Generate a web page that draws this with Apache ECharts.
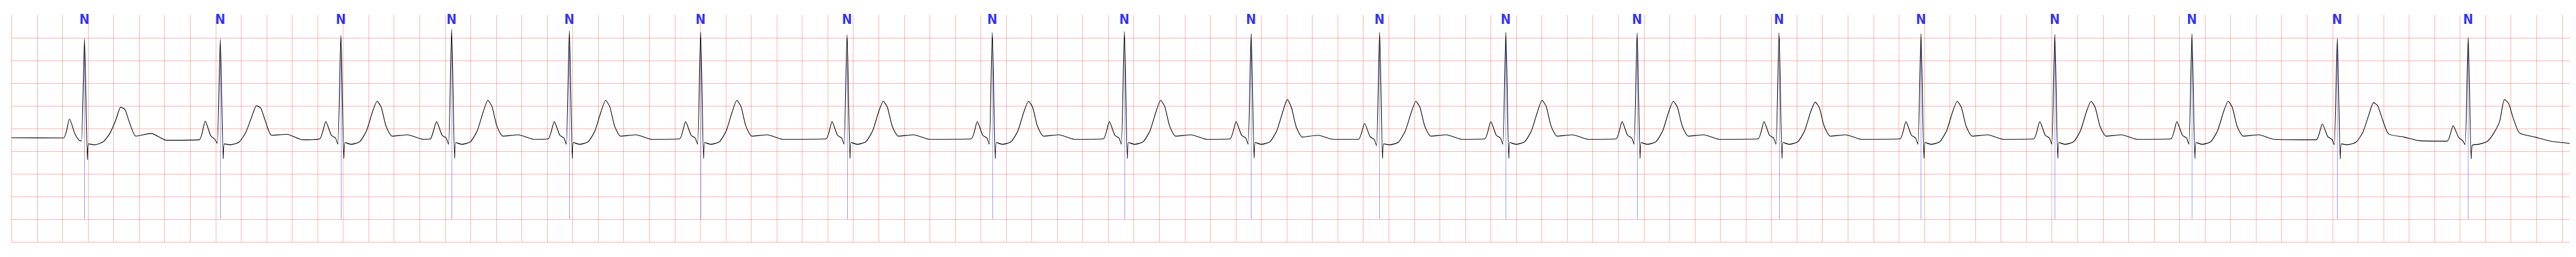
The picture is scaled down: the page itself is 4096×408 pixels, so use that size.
<!DOCTYPE html>
<html><head><meta charset="utf-8">
<script src="https://cdn.jsdelivr.net/npm/echarts@6/dist/echarts.min.js"></script>
<style>html,body{margin:0;padding:0;background:#fff}#c{width:4096px;height:408px}</style>
</head><body><div id="c"></div>
<script>
// Beat annotation times (s) and labels
const beatTimes = [0.5722, 1.6370, 2.5827, 3.4511, 4.3743, 5.4036, 6.5518, 7.6907, 8.7265, 9.7205,
  10.7278, 11.7178, 12.7471, 13.8600, 14.9731, 16.0226, 17.0978, 18.2377, 19.2641];
const beatLabels = ['N','N','N','N','N','N','N','N','N','N','N','N','N','N','N','N','N','N','N'];

// Key-point time offsets relative to each annotation (s)
const keyOffsets = [-0.166, -0.118, -0.075, -0.043, -0.024, 0, 0.0233, 0.032, 0.080, 0.148,
  0.201, 0.247, 0.284, 0.317, 0.354, 0.402, 0.523, 0.644];

// Key-point amplitudes (mV) per beat
const pOnset = [-0.21,-0.25,-0.23,-0.23,-0.23,-0.23,-0.23,-0.23,-0.23,-0.23,-0.24,-0.23,-0.23,-0.23,-0.23,-0.23,-0.23,-0.25,-0.28];
const pPeak  = [0.21,0.16,0.15,0.15,0.15,0.15,0.15,0.15,0.15,0.15,0.11,0.15,0.15,0.15,0.15,0.15,0.15,0.10,0.06];
const pEnd   = [-0.12,-0.16,-0.15,-0.15,-0.15,-0.15,-0.15,-0.15,-0.15,-0.15,-0.18,-0.15,-0.15,-0.15,-0.15,-0.15,-0.15,-0.18,-0.20];
const preQ   = [-0.26,-0.24,-0.21,-0.21,-0.21,-0.21,-0.21,-0.21,-0.21,-0.21,-0.24,-0.21,-0.21,-0.21,-0.21,-0.21,-0.21,-0.24,-0.27];
const qVal   = [-0.28,-0.33,-0.35,-0.35,-0.35,-0.35,-0.35,-0.35,-0.35,-0.35,-0.38,-0.35,-0.35,-0.35,-0.35,-0.35,-0.35,-0.36,-0.36];
const rPeak  = [1.956,1.943,2.054,2.183,2.150,2.124,2.064,2.112,2.137,2.087,2.115,2.115,2.102,2.105,2.090,2.075,2.090,1.971,2.005];
const sVal   = [-0.69,-0.67,-0.66,-0.66,-0.66,-0.66,-0.66,-0.66,-0.66,-0.65,-0.66,-0.66,-0.66,-0.66,-0.66,-0.66,-0.66,-0.67,-0.67];
const jVal   = [-0.34,-0.34,-0.31,-0.31,-0.31,-0.31,-0.31,-0.31,-0.31,-0.31,-0.34,-0.31,-0.31,-0.31,-0.31,-0.31,-0.31,-0.34,-0.37];
const st1    = [-0.36,-0.36,-0.35,-0.35,-0.35,-0.35,-0.35,-0.35,-0.35,-0.35,-0.36,-0.35,-0.35,-0.35,-0.35,-0.35,-0.35,-0.36,-0.35];
const st2    = [-0.29,-0.30,-0.29,-0.29,-0.29,-0.29,-0.29,-0.29,-0.29,-0.29,-0.30,-0.29,-0.29,-0.29,-0.29,-0.29,-0.29,-0.30,-0.29];
const tUp1   = [-0.10,-0.08,-0.05,-0.05,-0.05,-0.05,-0.05,-0.05,-0.05,-0.05,-0.06,-0.05,-0.05,-0.05,-0.05,-0.05,-0.05,-0.08,-0.10];
const tUp2   = [0.20,0.26,0.36,0.36,0.36,0.36,0.36,0.36,0.36,0.36,0.34,0.36,0.36,0.36,0.36,0.36,0.36,0.30,0.16];
const tPeak  = [0.47,0.50,0.60,0.62,0.62,0.62,0.60,0.60,0.62,0.64,0.60,0.62,0.60,0.58,0.60,0.60,0.60,0.57,0.64];
const tDown1 = [0.42,0.45,0.46,0.48,0.48,0.48,0.46,0.46,0.48,0.45,0.46,0.48,0.46,0.45,0.46,0.46,0.46,0.50,0.55];
const tDown2 = [0.12,0.16,0.05,0.06,0.06,0.06,0.05,0.05,0.06,0.03,0.05,0.06,0.05,0.05,0.05,0.05,0.05,0.20,0.22];
const tEnd   = [-0.17,-0.15,-0.17,-0.17,-0.17,-0.17,-0.17,-0.17,-0.17,-0.19,-0.17,-0.17,-0.17,-0.17,-0.17,-0.17,-0.17,-0.12,-0.10];
const uPeak  = [-0.11,-0.13,-0.14,-0.14,-0.14,-0.14,-0.14,-0.14,-0.14,-0.15,-0.14,-0.14,-0.14,-0.14,-0.14,-0.14,-0.14,-0.19,-0.19];
const uEnd   = [-0.26,-0.25,-0.24,-0.24,-0.24,-0.24,-0.24,-0.24,-0.24,-0.24,-0.24,-0.24,-0.24,-0.24,-0.24,-0.24,-0.24,-0.27,-0.28];
const leadIn  = [[0, -0.205]];
const leadOut = [[20.06, -0.33]];

const keyValues = [pOnset, pPeak, pEnd, preQ, qVal, rPeak, sVal, jVal, st1, st2, tUp1, tUp2, tPeak, tDown1, tDown2, tEnd, uPeak, uEnd];

const ecg = leadIn.slice();
beatTimes.forEach((t, i) => {
  keyOffsets.forEach((o, k) => ecg.push([+(t + o).toFixed(4), keyValues[k][i]]));
});
leadOut.forEach(p => ecg.push(p));

const S = 0.544;
const chart = echarts.init(document.getElementById('c'), null, {renderer: 'canvas'});
const gridColor = 'rgba(255,0,0,0.3)';
chart.setOption({
  animation: false,
  backgroundColor: '#ffffff',
  grid: {left: 33.7 * S, right: 4096 - 7511 * S, top: 44 * S, bottom: 408 - 705.7 * S, containLabel: false},
  xAxis: {
    type: 'value', min: 0, max: 20.06, interval: 0.2,
    axisLine: {show: false}, axisTick: {show: false}, axisLabel: {show: false},
    splitLine: {show: true, showMaxLine: false, lineStyle: {color: gridColor, width: 1}}
  },
  yAxis: {
    type: 'value', min: -2.5, max: 2.5, interval: 0.5,
    axisLine: {show: false}, axisTick: {show: false}, axisLabel: {show: false},
    splitLine: {show: true, showMaxLine: false, lineStyle: {color: gridColor, width: 1}}
  },
  series: [
    {
      type: 'lines', coordinateSystem: 'cartesian2d', z: 1, silent: true,
      lineStyle: {color: 'rgba(60,60,255,0.75)', width: 0.7, opacity: 1},
      data: beatTimes.map(t => ({coords: [[t, -2], [t, 2]]}))
    },
    {
      type: 'line', z: 3, data: ecg, showSymbol: false, symbol: 'none', smooth: 0.2,
      lineStyle: {color: '#000000', width: 1.1}, silent: true
    },
    {
      type: 'scatter', z: 4, symbolSize: 0, silent: true,
      data: beatTimes.map((t, i) => ({value: [t, 2.5], name: beatLabels[i]})),
      label: {
        show: true, position: 'inside', offset: [0, 8.7], formatter: p => p.name,
        color: '#0000ff', fontWeight: 'bold', fontSize: 21.5,
        fontFamily: "'Liberation Sans Narrow', 'DejaVu Sans Condensed', sans-serif",
        verticalAlign: 'middle', align: 'center'
      }
    }
  ]
});
</script>
</body></html>
